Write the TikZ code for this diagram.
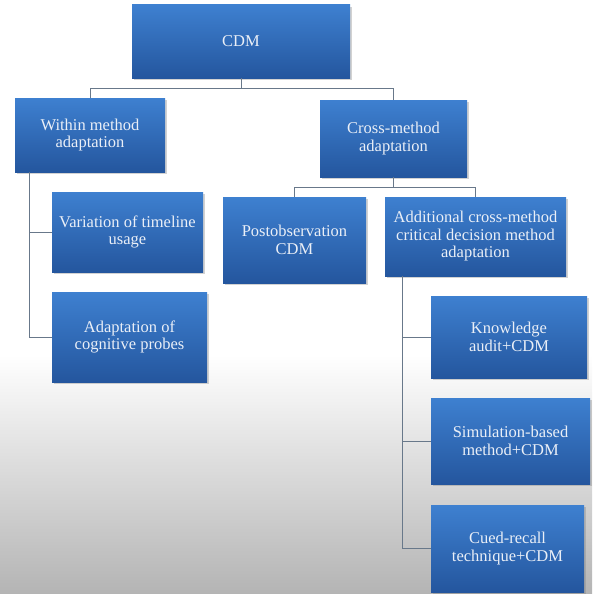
\documentclass[tikz,border=0pt]{standalone}
\usepackage{fontspec}
\setmainfont{Liberation Serif}
\newfontfamily\boxfont{Liberation Serif}
\usetikzlibrary{positioning, shadows}

\definecolor{boxtop}{RGB}{62,128,208}
\definecolor{boxbot}{RGB}{36,86,158}
\definecolor{boxtext}{RGB}{234,239,247}
\definecolor{linkcol}{RGB}{104,120,138}
\definecolor{floorgray}{RGB}{180,180,180}

\begin{document}
\begin{tikzpicture}[x=1pt, y=-1pt,
    box/.style={rectangle, top color=boxtop, bottom color=boxbot, draw=none,
        text=boxtext, align=center, inner sep=2pt,
        font=\boxfont\fontsize{16.5}{17.5}\selectfont,
        drop shadow={opacity=0.35, shadow xshift=2pt, shadow yshift=-2pt}},
    link/.style={draw=linkcol, line width=1pt}]

    % page with the grey floor at the bottom
    \useasboundingbox (0,0) rectangle (592,594);
    \fill[white] (0,0) rectangle (592,594);
    \shade[top color=white, bottom color=floorgray] (0,355) rectangle (592,594);

    % top level
    \node[box, minimum width=218pt, minimum height=73pt] (cdm) at (241,41.5) {CDM};

    % second level
    \node[box, minimum width=150pt, minimum height=74pt] (within) at (90,135) {Within method\\adaptation};
    \node[box, minimum width=147pt, minimum height=77pt] (cross) at (393.5,138.5) {Cross-method\\adaptation};

    % under within method
    \node[box, minimum width=151pt, minimum height=80pt] (variation) at (127.5,232) {Variation of timeline\\usage};
    \node[box, minimum width=155pt, minimum height=90pt] (probes) at (129.5,337) {Adaptation of\\cognitive probes};

    % under cross-method
    \node[box, minimum width=143pt, minimum height=86pt] (post) at (294.5,240) {Postobservation\\CDM};
    \node[box, minimum width=181pt, minimum height=79pt] (addl) at (475.5,236.5) {Additional cross-method\\critical decision method\\adaptation};

    % under additional cross-method
    \node[box, minimum width=156pt, minimum height=82pt] (knowledge) at (509,337) {Knowledge\\audit+CDM};
    \node[box, minimum width=159pt, minimum height=86pt] (simulation) at (510.5,441) {Simulation-based\\method+CDM};
    \node[box, minimum width=153pt, minimum height=87pt] (cued) at (507.5,548.5) {Cued-recall\\technique+CDM};

    % connectors
    \draw[link] (cdm.south) -- ++(0,10.5) coordinate (topbus);
    \draw[link] (within.north) |- (topbus) -| (cross.north);

    \coordinate (withinrail) at ([xshift=15pt]within.south west);
    \draw[link] (withinrail) |- (variation.west);
    \draw[link] (withinrail) |- (probes.west);

    \draw[link] (cross.south) -- ++(0,10) coordinate (crossbus);
    \draw[link] (post.north) |- (crossbus) -| (addl.north);

    \coordinate (addlrail) at ([xshift=18pt]addl.south west);
    \draw[link] (addlrail) |- (knowledge.west);
    \draw[link] (addlrail) |- (simulation.west);
    \draw[link] (addlrail) |- (cued.west);

\end{tikzpicture}
\end{document}
